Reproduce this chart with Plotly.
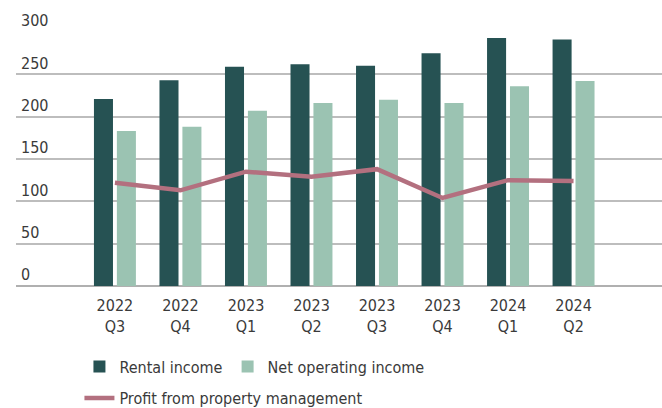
import plotly.graph_objects as go

quarters = ["2022<br>Q3", "2022<br>Q4", "2023<br>Q1", "2023<br>Q2",
            "2023<br>Q3", "2023<br>Q4", "2024<br>Q1", "2024<br>Q2"]
rental_income = [221, 243, 259, 262, 260, 275, 293, 291]
net_operating_income = [183, 188, 207, 216, 220, 216, 236, 242]
profit_property_mgmt = [122, 113, 135, 129, 138, 104, 125, 124]
y_ticks = [0, 50, 100, 150, 200, 250, 300]

FONT = "DejaVu Sans Condensed, Roboto, sans-serif"
TXT = "#3a3a3a"
FS = 16

fig = go.Figure()
fig.add_trace(go.Bar(x=quarters, y=rental_income, name="Rental income",
                     marker_color="#265253", marker_line_width=0, legend="legend"))
fig.add_trace(go.Bar(x=quarters, y=net_operating_income, name="Net operating income",
                     marker_color="#9bc3b2", marker_line_width=0, legend="legend"))
fig.add_trace(go.Scatter(x=quarters, y=profit_property_mgmt, mode="lines",
                         name="Profit from property management",
                         line=dict(color="#b3707f", width=4.5), legend="legend2"))

fig.update_layout(
    width=662, height=408,
    margin=dict(l=16, r=0, t=32, b=122, autoexpand=False),
    paper_bgcolor="white", plot_bgcolor="white",
    font=dict(family=FONT, size=FS, color=TXT),
    barmode="group", bargap=0.30, bargroupgap=0.17,
    showlegend=True,
    legend=dict(orientation="h", xref="container", yref="container",
                x=0.12, y=0.143, xanchor="left", yanchor="top",
                font=dict(size=FS, color=TXT),
                bgcolor="rgba(0,0,0,0)", itemclick=False),
    legend2=dict(orientation="h", xref="container", yref="container",
                 x=0.12, y=0.066, xanchor="left", yanchor="top",
                 font=dict(size=FS, color=TXT),
                 bgcolor="rgba(0,0,0,0)", itemclick=False),
)
fig.update_xaxes(range=[-1.51, 8.35], showgrid=False, showline=False, ticks="",
                 ticklabelstandoff=8, tickfont=dict(size=FS, color=TXT))
fig.update_yaxes(range=[0, 300], tickvals=y_ticks, showgrid=True,
                 gridcolor="#bdbdbd", gridwidth=1.5,
                 zeroline=True, zerolinecolor="#b0b0b0", zerolinewidth=2,
                 showline=False, ticks="",
                 ticklabelposition="inside top", ticklabeloverflow="allow",
                 ticklabelstandoff=2,
                 tickfont=dict(size=FS, color=TXT))

fig.write_html("out.html")
